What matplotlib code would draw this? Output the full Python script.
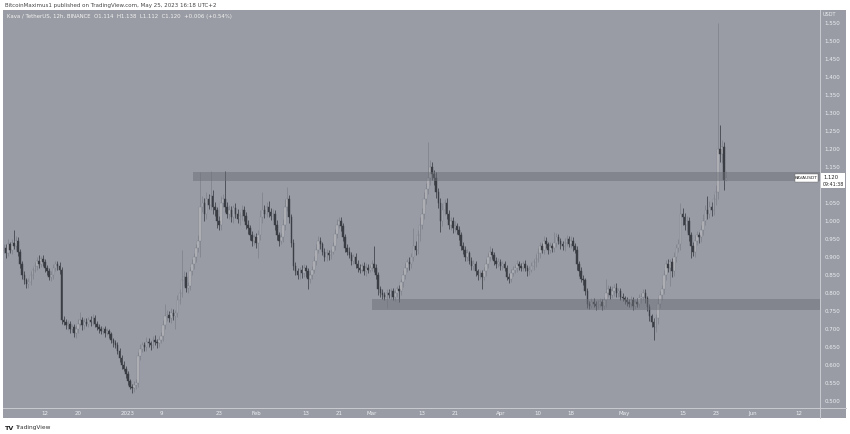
import numpy as np
import pandas as pd
import matplotlib
matplotlib.use("Agg")
import matplotlib.pyplot as plt
import matplotlib.dates as mdates
from matplotlib.patches import Rectangle

# =========================
# DATA (KAVA/USDT, 12h candles)
# =========================
first_open = 0.920
start_time = "2022-12-02 00:00"

closes = [
    0.925, 0.910, 0.935, 0.920, 0.940, 0.930, 0.945, 0.915, 0.880, 0.850,
    0.835, 0.825, 0.830, 0.850, 0.865, 0.875, 0.890, 0.880, 0.895, 0.885,
    0.870, 0.860, 0.845, 0.850, 0.870, 0.880, 0.875, 0.865, 0.725, 0.720,
    0.710, 0.715, 0.700, 0.705, 0.690, 0.700, 0.715, 0.725, 0.710, 0.720,
    0.715, 0.725, 0.720, 0.730, 0.715, 0.705, 0.700, 0.695, 0.700, 0.690,
    0.695, 0.685, 0.670, 0.660, 0.655, 0.640, 0.620, 0.600, 0.590, 0.575,
    0.555, 0.540, 0.535, 0.545, 0.550, 0.625, 0.645, 0.655, 0.650, 0.665,
    0.660, 0.655, 0.670, 0.665, 0.660, 0.670, 0.680, 0.710, 0.735, 0.740,
    0.730, 0.745, 0.735, 0.745, 0.780, 0.800, 0.835, 0.845, 0.815, 0.820,
    0.860, 0.880, 0.900, 0.925, 0.945, 1.040, 1.050, 1.020, 1.060, 1.045,
    1.070, 1.040, 1.030, 1.000, 0.990, 1.050, 1.060, 1.040, 1.020, 1.030,
    1.010, 1.035, 1.020, 1.005, 1.015, 1.030, 1.015, 0.990, 0.980, 0.960,
    0.945, 0.955, 0.940, 0.960, 1.010, 1.030, 1.020, 1.040, 1.025, 1.015,
    1.020, 0.990, 0.960, 0.945, 0.955, 0.990, 1.040, 1.060, 1.010, 0.940,
    0.875, 0.860, 0.850, 0.865, 0.855, 0.870, 0.860, 0.840, 0.850, 0.865,
    0.890, 0.920, 0.945, 0.935, 0.915, 0.900, 0.910, 0.905, 0.915, 0.930,
    0.965, 0.990, 1.000, 0.985, 0.955, 0.925, 0.915, 0.905, 0.890, 0.900,
    0.880, 0.870, 0.865, 0.875, 0.860, 0.870, 0.865, 0.870, 0.880, 0.870,
    0.850, 0.810, 0.800, 0.795, 0.790, 0.800, 0.795, 0.805, 0.790, 0.800,
    0.810, 0.805, 0.830, 0.850, 0.870, 0.885, 0.880, 0.900, 0.930, 0.920,
    0.960, 0.990, 1.020, 1.060, 1.090, 1.120, 1.150, 1.130, 1.120, 1.080,
    1.050, 1.000, 1.030, 1.050, 1.020, 0.990, 1.000, 0.980, 0.985, 0.975,
    0.960, 0.930, 0.920, 0.900, 0.910, 0.890, 0.875, 0.880, 0.860, 0.850,
    0.855, 0.845, 0.860, 0.880, 0.900, 0.915, 0.905, 0.890, 0.880, 0.885,
    0.875, 0.880, 0.870, 0.845, 0.840, 0.855, 0.865, 0.870, 0.880, 0.875,
    0.870, 0.880, 0.870, 0.860, 0.865, 0.875, 0.885, 0.895, 0.910, 0.930,
    0.920, 0.945, 0.935, 0.920, 0.930, 0.925, 0.940, 0.955, 0.945, 0.935,
    0.930, 0.940, 0.950, 0.935, 0.945, 0.930, 0.920, 0.880, 0.860, 0.840,
    0.835, 0.805, 0.770, 0.765, 0.775, 0.770, 0.765, 0.770, 0.775, 0.765,
    0.780, 0.800, 0.810, 0.795, 0.805, 0.815, 0.800, 0.805, 0.790, 0.785,
    0.780, 0.775, 0.770, 0.780, 0.765, 0.775, 0.770, 0.785, 0.790, 0.800,
    0.785, 0.760, 0.735, 0.720, 0.705, 0.730, 0.770, 0.795, 0.810, 0.850,
    0.880, 0.870, 0.885, 0.860, 0.900, 0.925, 0.935, 1.020, 1.010, 0.990,
    1.000, 0.960, 0.930, 0.915, 0.945, 0.960, 0.955, 0.975, 1.000, 1.030,
    1.020, 1.040, 1.030, 1.060, 1.080, 1.200, 1.185, 1.205, 1.114, 1.120,
]

# upper wick above max(open, close)
wick_up = [
    0.012, 0.010, 0.015, 0.008, 0.010, 0.035, 0.012, 0.010, 0.008, 0.010,
    0.010, 0.008, 0.012, 0.010, 0.008, 0.012, 0.010, 0.015, 0.008, 0.010,
    0.010, 0.008, 0.010, 0.012, 0.010, 0.008, 0.010, 0.012, 0.008, 0.010,
    0.008, 0.010, 0.006, 0.010, 0.008, 0.010, 0.012, 0.022, 0.008, 0.010,
    0.010, 0.008, 0.010, 0.012, 0.008, 0.006, 0.010, 0.008, 0.006, 0.008,
    0.008, 0.006, 0.008, 0.006, 0.010, 0.008, 0.006, 0.008, 0.010, 0.006,
    0.008, 0.006, 0.008, 0.010, 0.012, 0.010, 0.012, 0.010, 0.008, 0.012,
    0.010, 0.008, 0.010, 0.012, 0.008, 0.010, 0.012, 0.015, 0.035, 0.012,
    0.010, 0.012, 0.010, 0.008, 0.015, 0.012, 0.085, 0.015, 0.012, 0.010,
    0.012, 0.015, 0.010, 0.012, 0.015, 0.096, 0.020, 0.015, 0.020, 0.015,
    0.070, 0.015, 0.012, 0.010, 0.015, 0.020, 0.015, 0.080, 0.012, 0.015,
    0.012, 0.010, 0.015, 0.012, 0.010, 0.015, 0.012, 0.010, 0.012, 0.010,
    0.012, 0.010, 0.012, 0.015, 0.020, 0.050, 0.015, 0.012, 0.015, 0.010,
    0.012, 0.010, 0.012, 0.010, 0.012, 0.015, 0.020, 0.034, 0.012, 0.010,
    0.010, 0.012, 0.010, 0.008, 0.012, 0.010, 0.008, 0.010, 0.012, 0.010,
    0.012, 0.015, 0.012, 0.010, 0.008, 0.010, 0.012, 0.010, 0.008, 0.012,
    0.012, 0.015, 0.010, 0.012, 0.010, 0.008, 0.010, 0.012, 0.010, 0.008,
    0.010, 0.012, 0.010, 0.008, 0.010, 0.012, 0.010, 0.008, 0.012, 0.050,
    0.010, 0.008, 0.010, 0.012, 0.008, 0.010, 0.012, 0.008, 0.010, 0.008,
    0.010, 0.012, 0.010, 0.015, 0.012, 0.010, 0.015, 0.012, 0.050, 0.015,
    0.015, 0.020, 0.015, 0.020, 0.015, 0.100, 0.020, 0.015, 0.012, 0.015,
    0.012, 0.015, 0.020, 0.012, 0.015, 0.010, 0.012, 0.010, 0.015, 0.010,
    0.012, 0.010, 0.012, 0.010, 0.012, 0.008, 0.010, 0.012, 0.010, 0.008,
    0.010, 0.008, 0.012, 0.015, 0.012, 0.015, 0.010, 0.008, 0.010, 0.012,
    0.010, 0.008, 0.010, 0.008, 0.010, 0.012, 0.010, 0.008, 0.012, 0.010,
    0.008, 0.010, 0.012, 0.008, 0.010, 0.012, 0.010, 0.012, 0.015, 0.012,
    0.010, 0.012, 0.010, 0.008, 0.012, 0.010, 0.030, 0.012, 0.010, 0.008,
    0.010, 0.012, 0.010, 0.008, 0.012, 0.010, 0.008, 0.010, 0.008, 0.012,
    0.010, 0.008, 0.010, 0.008, 0.012, 0.010, 0.008, 0.010, 0.012, 0.008,
    0.010, 0.040, 0.012, 0.010, 0.015, 0.010, 0.012, 0.010, 0.008, 0.010,
    0.008, 0.010, 0.008, 0.012, 0.010, 0.008, 0.010, 0.012, 0.010, 0.012,
    0.010, 0.008, 0.010, 0.008, 0.010, 0.012, 0.015, 0.010, 0.012, 0.015,
    0.012, 0.015, 0.010, 0.012, 0.015, 0.012, 0.015, 0.030, 0.015, 0.012,
    0.015, 0.012, 0.010, 0.012, 0.015, 0.012, 0.010, 0.015, 0.020, 0.015,
    0.040, 0.015, 0.012, 0.015, 0.020, 0.350, 0.067, 0.020, 0.015, 0.018,
]

# lower wick below min(open, close)
wick_down = [
    0.010, 0.012, 0.008, 0.010, 0.012, 0.008, 0.010, 0.012, 0.010, 0.012,
    0.010, 0.012, 0.010, 0.008, 0.010, 0.008, 0.012, 0.010, 0.008, 0.010,
    0.012, 0.010, 0.008, 0.012, 0.010, 0.008, 0.010, 0.012, 0.010, 0.008,
    0.010, 0.012, 0.010, 0.008, 0.012, 0.015, 0.010, 0.008, 0.012, 0.010,
    0.008, 0.010, 0.012, 0.008, 0.010, 0.008, 0.010, 0.008, 0.010, 0.012,
    0.008, 0.010, 0.008, 0.010, 0.008, 0.010, 0.012, 0.010, 0.008, 0.010,
    0.010, 0.008, 0.013, 0.010, 0.012, 0.010, 0.012, 0.008, 0.010, 0.012,
    0.010, 0.012, 0.008, 0.010, 0.012, 0.010, 0.008, 0.012, 0.010, 0.012,
    0.010, 0.012, 0.010, 0.035, 0.012, 0.010, 0.012, 0.015, 0.012, 0.015,
    0.012, 0.010, 0.012, 0.015, 0.012, 0.045, 0.015, 0.020, 0.015, 0.012,
    0.015, 0.020, 0.015, 0.020, 0.015, 0.015, 0.012, 0.015, 0.012, 0.015,
    0.012, 0.015, 0.012, 0.010, 0.015, 0.012, 0.015, 0.012, 0.015, 0.012,
    0.015, 0.012, 0.015, 0.043, 0.012, 0.015, 0.012, 0.010, 0.015, 0.012,
    0.012, 0.015, 0.012, 0.015, 0.010, 0.012, 0.015, 0.012, 0.015, 0.012,
    0.012, 0.010, 0.012, 0.010, 0.012, 0.010, 0.015, 0.030, 0.012, 0.010,
    0.010, 0.012, 0.010, 0.012, 0.010, 0.012, 0.010, 0.012, 0.010, 0.008,
    0.010, 0.012, 0.010, 0.012, 0.010, 0.012, 0.010, 0.008, 0.012, 0.010,
    0.010, 0.012, 0.010, 0.008, 0.010, 0.012, 0.010, 0.008, 0.010, 0.012,
    0.012, 0.015, 0.010, 0.012, 0.010, 0.032, 0.010, 0.012, 0.010, 0.012,
    0.010, 0.030, 0.010, 0.012, 0.010, 0.012, 0.015, 0.010, 0.012, 0.015,
    0.012, 0.015, 0.012, 0.015, 0.012, 0.015, 0.020, 0.015, 0.020, 0.015,
    0.015, 0.030, 0.015, 0.012, 0.015, 0.012, 0.015, 0.012, 0.010, 0.012,
    0.012, 0.010, 0.012, 0.010, 0.012, 0.010, 0.012, 0.010, 0.012, 0.015,
    0.012, 0.035, 0.010, 0.012, 0.010, 0.012, 0.010, 0.012, 0.010, 0.008,
    0.010, 0.012, 0.008, 0.010, 0.012, 0.010, 0.008, 0.010, 0.012, 0.010,
    0.010, 0.008, 0.010, 0.012, 0.010, 0.008, 0.010, 0.012, 0.010, 0.012,
    0.010, 0.012, 0.010, 0.012, 0.010, 0.012, 0.010, 0.012, 0.010, 0.012,
    0.010, 0.012, 0.010, 0.008, 0.010, 0.012, 0.010, 0.015, 0.012, 0.010,
    0.012, 0.010, 0.012, 0.010, 0.008, 0.010, 0.012, 0.010, 0.008, 0.012,
    0.010, 0.020, 0.010, 0.012, 0.010, 0.012, 0.010, 0.012, 0.010, 0.008,
    0.010, 0.012, 0.010, 0.008, 0.012, 0.010, 0.008, 0.010, 0.012, 0.010,
    0.012, 0.010, 0.012, 0.015, 0.035, 0.012, 0.015, 0.012, 0.015, 0.012,
    0.015, 0.012, 0.050, 0.015, 0.012, 0.015, 0.012, 0.015, 0.020, 0.015,
    0.020, 0.015, 0.033, 0.012, 0.015, 0.012, 0.015, 0.012, 0.015, 0.012,
    0.015, 0.012, 0.015, 0.012, 0.015, 0.020, 0.020, 0.025, 0.028, 0.002,
]

# horizontal zones: start date, bottom, top
zone_starts = ["2023-01-16 18:00", "2023-02-28 22:00"]
zone_lows = [1.111, 0.753]
zone_highs = [1.136, 0.783]

price_ticks = [0.50, 0.55, 0.60, 0.65, 0.70, 0.75, 0.80, 0.85, 0.90, 0.95, 1.00,
               1.05, 1.15, 1.20, 1.25, 1.30, 1.35, 1.40, 1.45, 1.50, 1.55]

date_ticks = ["2022-12-12", "2022-12-20", "2023-01-01", "2023-01-09", "2023-01-23",
              "2023-02-01", "2023-02-13", "2023-02-21", "2023-03-01", "2023-03-13",
              "2023-03-21", "2023-04-01", "2023-04-10", "2023-04-18", "2023-05-01",
              "2023-05-15", "2023-05-23", "2023-06-01", "2023-06-12"]
date_labels = ["12", "20", "2023", "9", "23", "Feb", "13", "21", "Mar", "13",
               "21", "Apr", "10", "18", "May", "15", "23", "Jun", "12"]

# =========================
# COLOURS
# =========================
BG = "#999ca4"
UP_FILL = "#b8bac0"
UP_EDGE = "#80838b"
DOWN = "#3a3d44"
ZONE = "#6c6f77"
AXIS_TXT = "#eceef2"
SEP = "#c9cbd0"

W, H = 850, 434


def fx(px):
    return px / W


def fy(py):
    return 1 - py / H


# =========================
# FIGURE
# =========================
fig = plt.figure(figsize=(W / 100, H / 100), dpi=100)
fig.patch.set_facecolor("white")

# grey chart panel (plot + both scales), drawn behind the axes
fig.patches.append(Rectangle((fx(3), fy(418)), fx(846) - fx(3), fy(10) - fy(418),
                             transform=fig.transFigure, facecolor=BG,
                             edgecolor="none", zorder=-10))

ax = fig.add_axes([fx(3), fy(408), fx(820) - fx(3), fy(10) - fy(408)])
ax.set_facecolor(BG)
for s in ax.spines.values():
    s.set_visible(False)

closes = np.array(closes)
opens = np.concatenate([[first_open], closes[:-1]])
highs = np.maximum(opens, closes) + np.array(wick_up)
lows = np.minimum(opens, closes) - np.array(wick_down)

times = pd.Timestamp(start_time) + pd.to_timedelta(np.arange(len(closes)) * 12, unit="h")
x = mdates.date2num(times.to_pydatetime())
up = closes >= opens

# wicks
ax.vlines(x[up], lows[up], highs[up], color=UP_EDGE, lw=0.55, zorder=2)
ax.vlines(x[~up], lows[~up], highs[~up], color=DOWN, lw=0.55, zorder=2)

# bodies
body_h = np.maximum(np.abs(closes - opens), 0.002)
body_b = np.minimum(opens, closes)
ax.bar(x[up], body_h[up], bottom=body_b[up], width=0.38, color=UP_FILL,
       edgecolor=UP_EDGE, linewidth=0.3, zorder=3)
ax.bar(x[~up], body_h[~up], bottom=body_b[~up], width=0.38, color=DOWN,
       edgecolor=DOWN, linewidth=0.3, zorder=3)

# limits (match the TradingView viewport)
x0 = mdates.date2num(pd.Timestamp("2022-12-12").to_pydatetime())
ax.set_xlim(x0 - 10.15, x0 + 187.2)
ax.set_ylim(0.4806, 1.586)

# support / resistance zones
for zs, zl, zh in zip(zone_starts, zone_lows, zone_highs):
    xs = mdates.date2num(pd.Timestamp(zs).to_pydatetime())
    ax.add_patch(Rectangle((xs, zl), ax.get_xlim()[1] - xs, zh - zl,
                           facecolor=ZONE, alpha=0.5, edgecolor="none", zorder=4))

# price scale
ax.yaxis.tick_right()
ax.set_yticks(price_ticks)
ax.set_yticklabels([f"{p:.3f}" for p in price_ticks])
ax.tick_params(axis="y", length=0, pad=3, labelsize=4, labelcolor=AXIS_TXT)

# time scale
ax.set_xticks([mdates.date2num(pd.Timestamp(d).to_pydatetime()) for d in date_ticks])
ax.set_xticklabels(date_labels)
ax.tick_params(axis="x", length=0, pad=2.2, labelsize=4, labelcolor=AXIS_TXT)

# separator lines
fig.add_artist(plt.Line2D([fx(820), fx(820)], [fy(10), fy(418)], color=SEP, lw=0.7))
fig.add_artist(plt.Line2D([fx(3), fx(846)], [fy(408), fy(408)], color=SEP, lw=0.7))

fig.text(fx(823), fy(15), "USDT", fontsize=3.6, color=AXIS_TXT, va="center")

# last price labels
fig.patches.append(Rectangle((fx(795), fy(182)), fx(818) - fx(795), fy(174) - fy(182),
                             transform=fig.transFigure, facecolor="white",
                             edgecolor="#666666", lw=0.3, zorder=5))
fig.text(fx(806.5), fy(178), "KAVAUSDT", fontsize=3.2, color="#222222",
         ha="center", va="center", zorder=6)
fig.patches.append(Rectangle((fx(821), fy(188)), fx(845) - fx(821), fy(173) - fy(188),
                             transform=fig.transFigure, facecolor="white",
                             edgecolor="none", zorder=5))
fig.text(fx(823), fy(177.5), "1.120", fontsize=3.8, color="#222222", va="center", zorder=6)
fig.text(fx(823), fy(184.5), "09:41:38", fontsize=3.4, color="#222222", va="center", zorder=6)

# header texts
fig.text(fx(5), fy(5), "BitcoinMaximus1 published on TradingView.com, May 25, 2023 16:18 UTC+2",
         fontsize=4.0, color="#444444", va="center")
fig.text(fx(7), fy(16.5),
         "Kava / TetherUS, 12h, BINANCE  O1.114  H1.138  L1.112  C1.120  +0.006 (+0.54%)",
         fontsize=3.9, color="#f2f2f2", va="center")

# footer logo
fig.text(fx(5), fy(428), "TV", fontsize=4.6, color="#222222", va="center", fontweight="bold")
fig.text(fx(15), fy(428), "TradingView", fontsize=4.2, color="#333333", va="center")

fig.savefig("out.png", dpi=100, facecolor="white")
